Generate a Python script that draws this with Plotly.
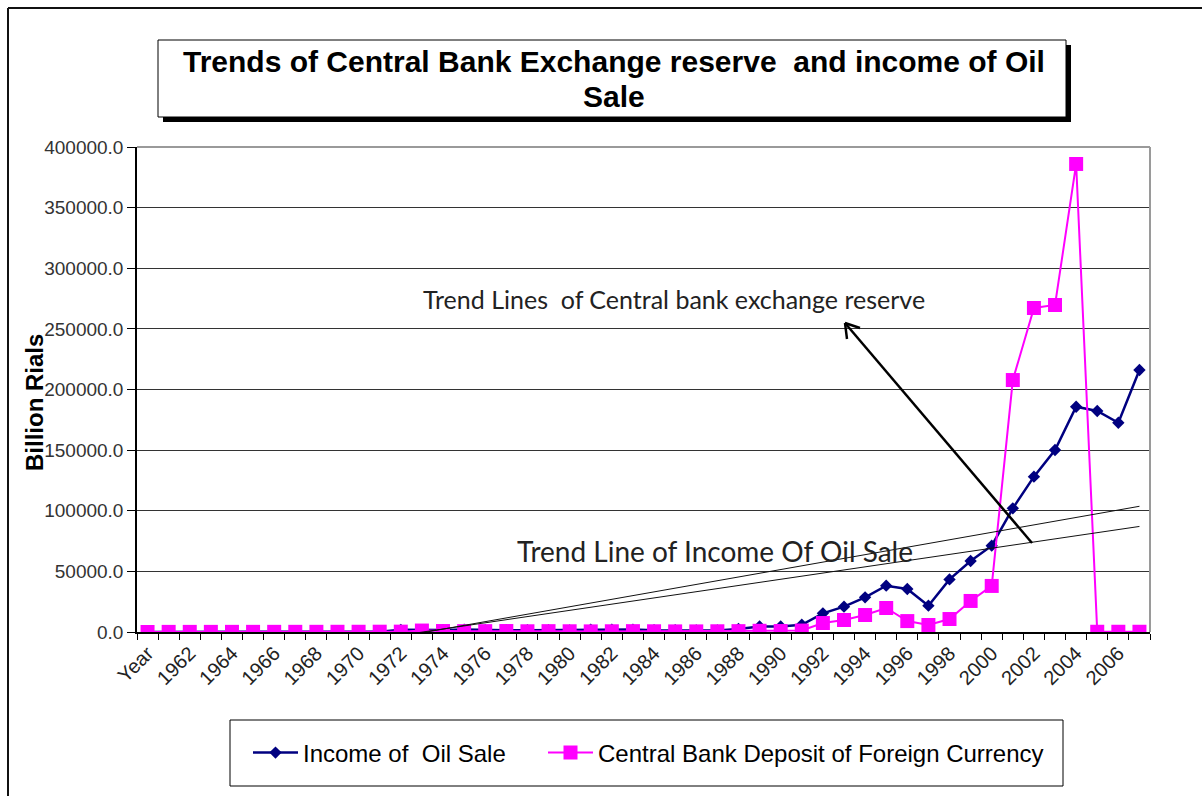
import numpy as np
import plotly.graph_objects as go

# Category labels: header cell followed by the years
categories = ["Year"] + [str(y) for y in range(1961, 2008)]

# Billion rials
income_oil_sale = [
    0,
    50, 60, 70, 80, 90, 100, 110, 120, 140, 150, 300,          # 1961-1971
    1800, 1500, 1600, 2000, 1500, 1500, 1400, 1500, 1300,      # 1972-1980
    2000, 2000, 2000, 1500, 1400, 1200, 1300, 2500, 4500,      # 1981-1989
    4500, 6000, 15400, 20900, 28600, 38200, 35500, 21700,      # 1990-1997
    43400, 58600, 71200, 102000, 128100, 150100, 185800,       # 1998-2004
    182300, 172600, 216100,                                    # 2005-2007
]

central_bank_deposit = [
    0,
    100, 100, 110, 120, 130, 140, 150, 160, 180, 200, 250,     # 1961-1971
    300, 1200, 800, 700, 700, 800, 600, 700, 600,              # 1972-1980
    500, 600, 700, 600, 500, 500, 600, 700, 1000,              # 1981-1989
    800, 1200, 7400, 9900, 14000, 19800, 9000, 5800,           # 1990-1997
    10700, 25600, 38000, 207800, 267200, 269700, 386000,       # 1998-2004
    200, 200, 200,                                             # 2005-2007
]

y_ticks = [0, 50000, 100000, 150000, 200000, 250000, 300000, 350000, 400000]
x_ticktext = [c if i % 2 == 0 else "" for i, c in enumerate(categories)]

# Linear least-squares trend lines over the category index
idx = np.arange(len(categories))
trend_income = np.polyval(np.polyfit(idx, income_oil_sale, 1), idx)
trend_deposit = np.polyval(np.polyfit(idx, central_bank_deposit, 1), idx)

# Fixed layout geometry (pixels) for a 1202 x 796 page
W, H = 1202, 796
L, R, T, B = 137, 52, 147, 164
PW, PH = W - L - R, H - T - B


def px(x):
    return (x - L) / PW


def py(y):
    return (H - B - y) / PH


ARIAL = "Liberation Sans, Arial, sans-serif"
CALIBRI = "Lato, Carlito, Calibri, sans-serif"

fig = go.Figure()

fig.add_trace(go.Scatter(
    x=categories, y=income_oil_sale, name="Income of \u00a0Oil Sale",
    mode="lines+markers", legend="legend",
    line=dict(color="#000080", width=2.5),
    marker=dict(symbol="diamond", size=9.5, color="#000080"),
))
fig.add_trace(go.Scatter(
    x=categories, y=central_bank_deposit,
    name="Central Bank Deposit of Foreign Currency",
    mode="lines+markers", legend="legend2",
    line=dict(color="#FF00FF", width=2),
    marker=dict(symbol="square", size=14, color="#FF00FF"),
))
for trend in (trend_income, trend_deposit):
    fig.add_trace(go.Scatter(
        x=categories, y=trend, mode="lines", showlegend=False,
        line=dict(color="#111111", width=1), hoverinfo="skip",
    ))

shapes = []
# outer chart frame (top and left edges)
shapes.append(dict(type="line", xref="paper", yref="paper",
                   x0=px(8), y0=py(8), x1=px(W + 5), y1=py(8),
                   line=dict(color="#111111", width=2)))
shapes.append(dict(type="line", xref="paper", yref="paper",
                   x0=px(8), y0=py(8), x1=px(8), y1=py(H + 5),
                   line=dict(color="#111111", width=2)))
# plot area border, top and right
shapes.append(dict(type="line", xref="paper", yref="paper",
                   x0=0, y0=1, x1=1, y1=1,
                   line=dict(color="#9a9a9a", width=2)))
shapes.append(dict(type="line", xref="paper", yref="paper",
                   x0=1, y0=0, x1=1, y1=1,
                   line=dict(color="#9a9a9a", width=2)))
# title box with drop shadow
shapes.append(dict(type="rect", xref="paper", yref="paper",
                   x0=px(163), y0=py(45), x1=px(1071), y1=py(122),
                   fillcolor="#000000", line=dict(width=0)))
shapes.append(dict(type="rect", xref="paper", yref="paper",
                   x0=px(158), y0=py(40), x1=px(1066), y1=py(117),
                   fillcolor="#ffffff", line=dict(color="#000000", width=1)))
# legend box
shapes.append(dict(type="rect", xref="paper", yref="paper",
                   x0=px(230), y0=py(720), x1=px(1063), y1=py(786),
                   fillcolor="rgba(0,0,0,0)", line=dict(color="#000000", width=1)))
# arrow pointing at the reserve trend label
tip = (845, 323)
tail = (1032, 543)
for a, b in ((tail, tip), ((847, 339), tip), ((860, 328), tip)):
    shapes.append(dict(type="line", xref="paper", yref="paper",
                       x0=px(a[0]), y0=py(a[1]), x1=px(b[0]), y1=py(b[1]),
                       line=dict(color="#000000", width=2.5)))

annotations = [
    dict(text="<b>Trends of Central Bank Exchange reserve \u00a0and income of Oil</b>",
         xref="paper", yref="paper", x=px(614), y=py(62),
         xanchor="center", yanchor="middle", showarrow=False,
         font=dict(family=ARIAL, size=30, color="#000000")),
    dict(text="<b>Sale</b>",
         xref="paper", yref="paper", x=px(614), y=py(97),
         xanchor="center", yanchor="middle", showarrow=False,
         font=dict(family=ARIAL, size=30, color="#000000")),
    dict(text="<b>Billion Rials</b>", textangle=-90,
         xref="paper", yref="paper", x=px(34), y=py(403),
         xanchor="center", yanchor="middle", showarrow=False,
         font=dict(family=ARIAL, size=24, color="#000000")),
    dict(text="Trend Lines \u00a0of Central bank exchange reserve",
         xref="paper", yref="paper", x=px(674), y=py(299),
         xanchor="center", yanchor="middle", showarrow=False,
         font=dict(family=CALIBRI, size=25, color="#222222")),
    dict(text="Trend Line of Income Of Oil Sale",
         xref="paper", yref="paper", x=px(715), y=py(551),
         xanchor="center", yanchor="middle", showarrow=False,
         font=dict(family=CALIBRI, size=28, color="#222222")),
]

legend_style = dict(orientation="h", xanchor="left", yanchor="middle",
                    y=py(753), bgcolor="rgba(0,0,0,0)", borderwidth=0,
                    font=dict(family=ARIAL, size=24, color="#000000"),
                    itemwidth=45)

fig.update_layout(
    width=W, height=H,
    margin=dict(l=L, r=R, t=T, b=B, autoexpand=False),
    paper_bgcolor="#ffffff", plot_bgcolor="#ffffff",
    showlegend=True,
    legend=dict(x=px(248), **legend_style),
    legend2=dict(x=px(543), **legend_style),
    shapes=shapes,
    annotations=annotations,
    xaxis=dict(
        type="category", range=[-0.5, len(categories) - 0.5],
        tickmode="array", tickvals=categories, ticktext=x_ticktext,
        tickson="boundaries", ticks="outside", ticklen=6,
        tickcolor="#000000", tickwidth=1,
        tickangle=-45, tickfont=dict(family=ARIAL, size=20, color="#222222"),
        showline=True, linecolor="#000000", linewidth=1.5,
        showgrid=False, zeroline=False,
    ),
    yaxis=dict(
        range=[0, 400000], tickmode="array", tickvals=y_ticks,
        tickformat=".1f", ticks="outside", ticklen=8,
        tickcolor="#000000", tickwidth=1,
        tickfont=dict(family=ARIAL, size=19, color="#333333"),
        showline=True, linecolor="#000000", linewidth=1.5,
        showgrid=True, gridcolor="#333333", gridwidth=1,
        zeroline=False,
    ),
)

fig.write_html("out.html")
